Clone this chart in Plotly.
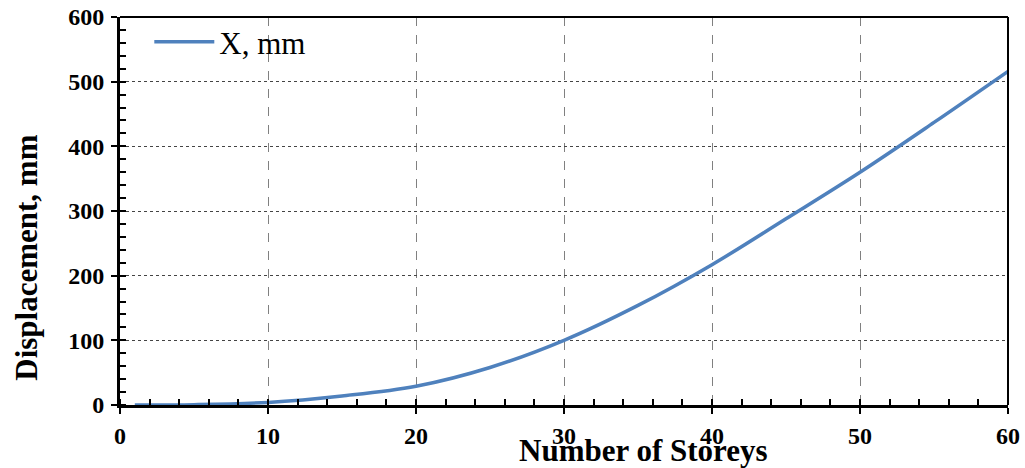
import plotly.graph_objects as go

storeys = [1, 5, 10, 15, 20, 25, 30, 35, 40, 45, 50, 55, 60]
disp_x = [0, 0.5, 4, 14, 29, 58, 100, 154, 217, 288, 360, 437, 516]

x_ticks = [0, 10, 20, 30, 40, 50, 60]
y_ticks = [0, 100, 200, 300, 400, 500, 600]

FONT = "Liberation Serif"

fig = go.Figure()
fig.add_trace(go.Scatter(
    x=storeys, y=disp_x, mode="lines", name="X, mm",
    line=dict(color="#4F81BD", width=3.5, shape="spline", smoothing=1.0),
))
# invisible trace for inside major ticks on overlay axes
fig.add_trace(go.Scatter(x=[None], y=[None], xaxis="x2", yaxis="y2", showlegend=False))

fig.update_layout(
    width=1025, height=468,
    margin=dict(l=120, r=17, t=17, b=63, autoexpand=False),
    paper_bgcolor="white", plot_bgcolor="white",
    showlegend=True,
    legend=dict(x=0.033, y=1.005, xanchor="left", yanchor="top",
                font=dict(family=FONT, size=31, color="black"),
                bgcolor="rgba(0,0,0,0)", itemwidth=60),
    xaxis=dict(range=[0, 60], tickvals=x_ticks, ticks="outside", ticklen=6, tickwidth=2,
               tickcolor="black", showgrid=True, gridcolor="#808080", griddash="dash", gridwidth=1,
               showline=True, linecolor="black", linewidth=3, zeroline=False, automargin=False,
               tickfont=dict(family=FONT, size=24, color="black", weight="bold"),
               ticklabelstandoff=1,
               minor=dict(dtick=2, ticks="inside", ticklen=6, tickwidth=2, tickcolor="black", showgrid=False)),
    yaxis=dict(range=[0, 600], tickvals=y_ticks, ticks="outside", ticklen=6, tickwidth=2,
               tickcolor="black", showgrid=True, gridcolor="#444444", griddash="dot", gridwidth=1,
               showline=True, linecolor="black", linewidth=3, zeroline=False, automargin=False,
               tickfont=dict(family=FONT, size=24, color="black", weight="bold"),
               ticklabelstandoff=2,
               minor=dict(dtick=20, ticks="inside", ticklen=6, tickwidth=2, tickcolor="black", showgrid=False)),
    xaxis2=dict(range=[0, 60], tickvals=x_ticks, ticks="inside", ticklen=6, tickwidth=2, tickcolor="black",
                showticklabels=False, showgrid=False, zeroline=False, overlaying="x", anchor="y"),
    yaxis2=dict(range=[0, 600], tickvals=y_ticks, ticks="inside", ticklen=6, tickwidth=2, tickcolor="black",
                showticklabels=False, showgrid=False, zeroline=False, overlaying="y", anchor="x"),
    shapes=[
        dict(type="line", xref="paper", yref="paper", x0=0, x1=1, y0=1, y1=1,
             line=dict(color="black", width=2)),
        dict(type="line", xref="paper", yref="paper", x0=1, x1=1, y0=0, y1=1,
             line=dict(color="black", width=2)),
    ],
    annotations=[
        dict(text="<b>Number of Storeys</b>", xref="paper", yref="paper", x=0.59, y=-0.116,
             xanchor="center", yanchor="middle", showarrow=False,
             font=dict(family=FONT, size=31, color="black")),
        dict(text="<b>Displacement, mm</b>", xref="paper", yref="paper", x=-0.105, y=0.379,
             xanchor="center", yanchor="middle", showarrow=False, textangle=-90,
             font=dict(family=FONT, size=31, color="black")),
    ],
)

fig.write_html("out.html")
